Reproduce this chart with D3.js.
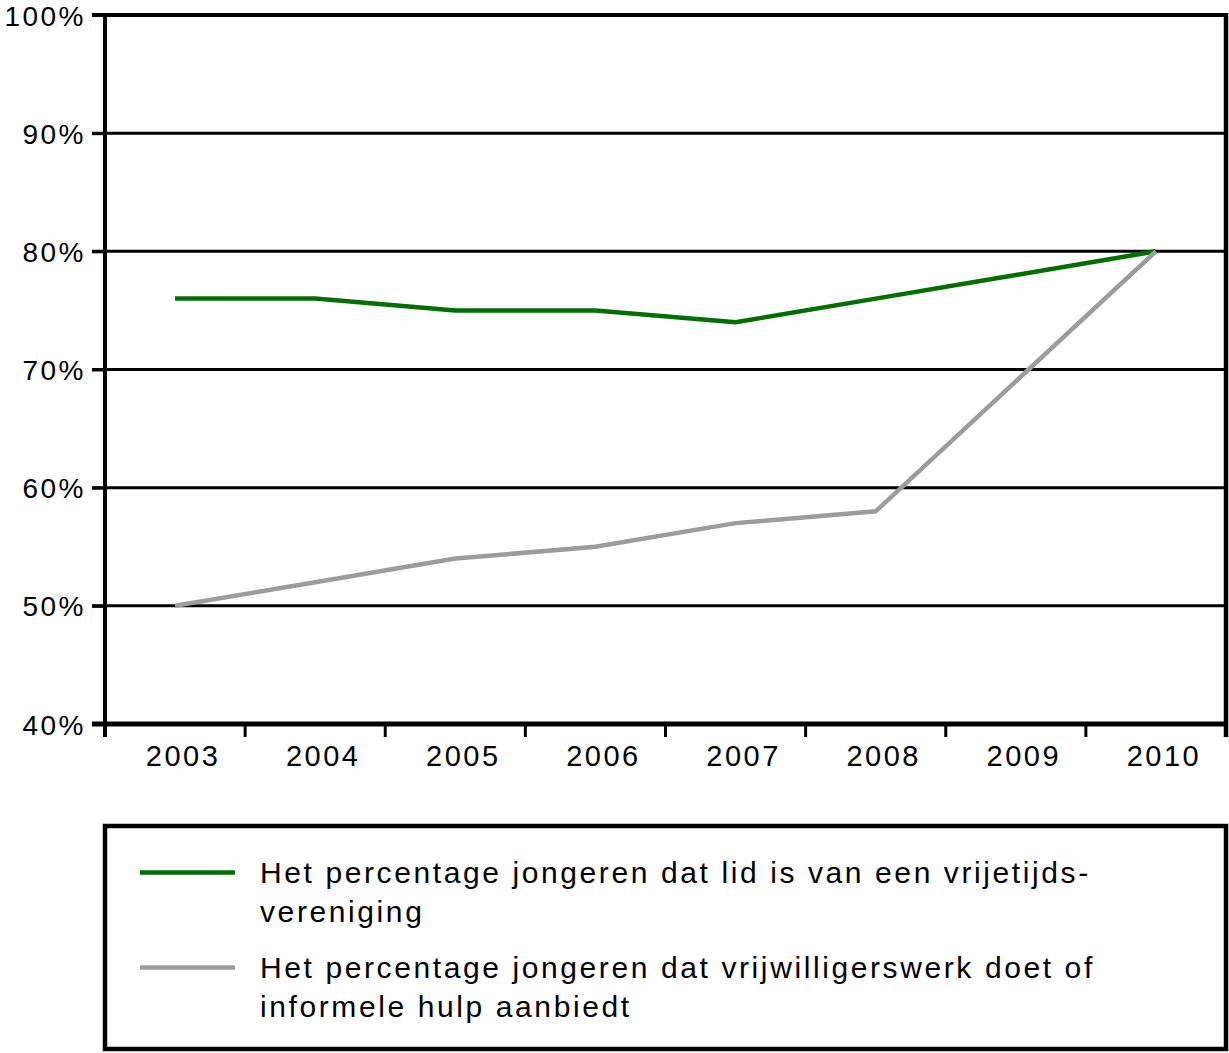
<!DOCTYPE html>
<html>
<head>
<meta charset="utf-8">
<script src="https://cdn.jsdelivr.net/npm/d3@7"></script>
<style>
  html, body { margin: 0; padding: 0; background: #fff; }
  svg { display: block; }
  text { font-family: "Liberation Sans", Arial, sans-serif; fill: #000; }
</style>
</head>
<body>
<svg id="chart" width="1229" height="1053"></svg>
<script>
// ---- data ----
const years = ["2003", "2004", "2005", "2006", "2007", "2008", "2009", "2010"];
const lidVereniging = [76, 76, 75, 75, 74, 76, 78, 80];
const vrijwilligerswerk = [50, 52, 54, 55, 57, 58, 69, 80];
const yTickValues = [40, 50, 60, 70, 80, 90, 100];
const legendLines = [
  ["Het percentage jongeren dat lid is van een vrijetijds-", "vereniging"],
  ["Het percentage jongeren dat vrijwilligerswerk doet of", "informele hulp aanbiedt"]
];
const seriesColors = ["#006f00", "#9c9c9c"];

// ---- layout ----
const plotLeft = 105, plotRight = 1226, plotTop = 15, plotBottom = 724;
const svg = d3.select("#chart");

const x = d3.scaleBand().domain(years).range([plotLeft, plotRight]);
const y = d3.scaleLinear().domain([40, 100]).range([plotBottom, plotTop]);

// gridlines
svg.append("g").selectAll("line")
  .data(yTickValues.filter(d => d > 40 && d < 100))
  .join("line")
  .attr("x1", plotLeft - 13).attr("x2", plotRight)
  .attr("y1", d => y(d)).attr("y2", d => y(d))
  .attr("stroke", "#000").attr("stroke-width", 3);

// top border (100%)
svg.append("line")
  .attr("x1", plotLeft - 13).attr("x2", plotRight + 2)
  .attr("y1", y(100)).attr("y2", y(100))
  .attr("stroke", "#000").attr("stroke-width", 4);

// y axis labels via d3 axis
const yAxis = d3.axisLeft(y).tickValues(yTickValues).tickFormat(d => d + "%")
  .tickSize(13).tickPadding(0);
const yg = svg.append("g").attr("transform", `translate(${plotLeft},0)`).call(yAxis);
yg.select(".domain").remove();
yg.selectAll(".tick line").attr("stroke", "#000").attr("stroke-width", 3);
yg.selectAll(".tick text")
  .attr("x", -19)
  .attr("dy", "0.36em")
  .style("font-size", "28px")
  .style("letter-spacing", "2.5px")
  .style("font-family", '"Liberation Sans", Arial, sans-serif');

// left axis line
svg.append("line")
  .attr("x1", plotLeft).attr("x2", plotLeft)
  .attr("y1", plotTop - 2).attr("y2", plotBottom + 13)
  .attr("stroke", "#000").attr("stroke-width", 4);

// right border
svg.append("line")
  .attr("x1", plotRight).attr("x2", plotRight)
  .attr("y1", plotTop - 2).attr("y2", plotBottom + 13)
  .attr("stroke", "#000").attr("stroke-width", 4.5);

// x axis labels
const xAxis = d3.axisBottom(x).tickSize(0).tickPadding(0);
const xg = svg.append("g").attr("transform", `translate(0,${plotBottom})`).call(xAxis);
xg.select(".domain").remove();
xg.selectAll(".tick text")
  .attr("y", 42)
  .attr("dy", 0)
  .attr("dx", 8)
  .style("font-size", "29px")
  .style("letter-spacing", "2.5px")
  .style("font-family", '"Liberation Sans", Arial, sans-serif');

// x boundary ticks
const boundaries = years.map(d => x(d)).concat([x.range()[1]]);
svg.append("g").selectAll("line")
  .data(boundaries)
  .join("line")
  .attr("x1", d => d).attr("x2", d => d)
  .attr("y1", plotBottom).attr("y2", plotBottom + 13)
  .attr("stroke", "#000").attr("stroke-width", 3);

// bottom axis line
svg.append("line")
  .attr("x1", plotLeft - 13).attr("x2", plotRight + 2)
  .attr("y1", plotBottom).attr("y2", plotBottom)
  .attr("stroke", "#000").attr("stroke-width", 5);

// series lines
const line = d3.line()
  .x((d, i) => x(years[i]) + x.bandwidth() / 2)
  .y(d => y(d));

[lidVereniging, vrijwilligerswerk].forEach((s, i) => {
  svg.append("path")
    .datum(s)
    .attr("d", line)
    .attr("fill", "none")
    .attr("stroke", seriesColors[i])
    .attr("stroke-width", 4.5)
    .attr("stroke-linejoin", "miter");
});

// legend
svg.append("rect")
  .attr("x", plotLeft).attr("y", 826)
  .attr("width", plotRight - plotLeft).attr("height", 223)
  .attr("fill", "none").attr("stroke", "#000").attr("stroke-width", 4.5);

const legendBaselines = [883, 978];
legendLines.forEach((lines, i) => {
  const base = legendBaselines[i];
  svg.append("line")
    .attr("x1", 140).attr("x2", 235)
    .attr("y1", base - 10.5).attr("y2", base - 10.5)
    .attr("stroke", seriesColors[i]).attr("stroke-width", 4.5);
  const t = svg.append("text")
    .attr("x", 260).attr("y", base)
    .style("font-size", "30px")
    .style("letter-spacing", "2.6px");
  lines.forEach((ln, j) => {
    t.append("tspan").attr("x", 260).attr("y", base + j * 39).text(ln);
  });
});
</script>
</body>
</html>
